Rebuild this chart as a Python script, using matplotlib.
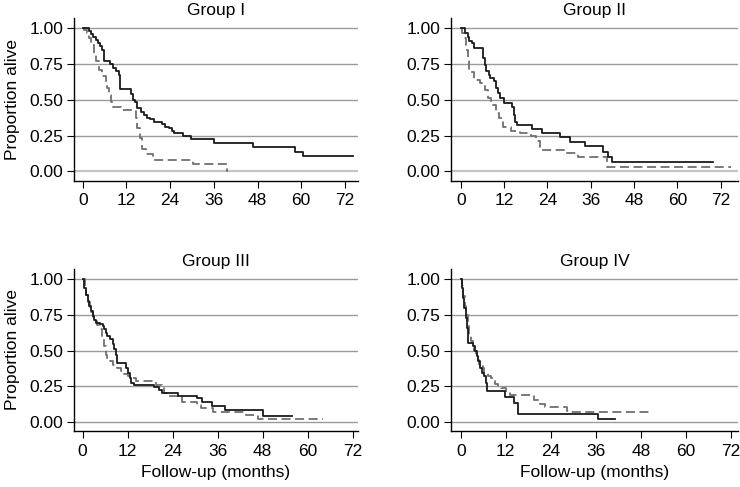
"""Kaplan-Meier style survival curves for four groups (2x2 panels)."""

import matplotlib

matplotlib.use("Agg")
import matplotlib.pyplot as plt

plt.rcParams["font.family"] = ["Liberation Sans", "DejaVu Sans"]

# Step curves: event times (months), survival after each step, and last follow-up.
g1_solid_t = [1.7, 2.4, 2.9, 3.6, 4.2, 4.8, 5.4, 5.9, 7.5, 8.4, 9.1, 10.0, 10.2,
              13.2, 13.7, 14.3, 15.0, 16.0, 16.9, 17.6, 18.5, 19.6, 21.7, 22.6,
              23.8, 24.4, 25.1, 27.4, 29.7, 36.0, 46.7, 58.4, 60.4]
g1_solid_s = [0.979, 0.960, 0.939, 0.920, 0.897, 0.874, 0.845, 0.773, 0.749, 0.721,
              0.698, 0.674, 0.574, 0.539, 0.499, 0.487, 0.440, 0.417, 0.393, 0.375,
              0.363, 0.342, 0.328, 0.311, 0.300, 0.281, 0.265, 0.248, 0.225, 0.197,
              0.169, 0.133, 0.105]
g1_solid_end = 74.1
g1_dash_t = [0.4, 1.1, 1.7, 2.4, 3.1, 3.6, 4.5, 5.4, 6.3, 6.8, 7.2, 7.7, 8.2, 10.5,
             14.6, 15.0, 15.8, 16.4, 17.3, 19.2, 30.2, 39.5]
g1_dash_s = [0.985, 0.967, 0.932, 0.885, 0.815, 0.768, 0.710, 0.663, 0.616, 0.581,
             0.534, 0.487, 0.452, 0.429, 0.370, 0.300, 0.230, 0.159, 0.124, 0.077,
             0.050, 0.0]
g1_dash_end = 40.0

g2_solid_t = [1.2, 1.9, 2.4, 3.0, 3.8, 6.3, 6.6, 7.0, 7.7, 8.2, 9.1, 9.8, 10.3, 11.0,
              12.1, 14.2, 14.7, 15.1, 15.6, 19.7, 22.4, 27.5, 30.3, 34.4, 39.5, 40.9,
              42.0]
g2_solid_s = [0.967, 0.937, 0.913, 0.897, 0.862, 0.792, 0.745, 0.700, 0.674, 0.651,
              0.628, 0.581, 0.546, 0.511, 0.475, 0.452, 0.393, 0.346, 0.323, 0.297,
              0.267, 0.239, 0.208, 0.176, 0.138, 0.103, 0.068]
g2_solid_end = 69.9
g2_dash_t = [0.3, 0.9, 1.4, 1.9, 2.4, 2.9, 3.8, 5.2, 6.1, 6.6, 7.5, 8.4, 9.8, 10.7,
             11.6, 14.0, 16.5, 19.5, 20.8, 22.0, 29.2, 32.6, 40.4]
g2_dash_s = [0.967, 0.930, 0.850, 0.780, 0.710, 0.695, 0.640, 0.616, 0.593, 0.570,
             0.510, 0.464, 0.405, 0.370, 0.311, 0.280, 0.265, 0.248, 0.210, 0.150,
             0.127, 0.103, 0.033]
g2_dash_end = 74.8

g3_solid_t = [0.4, 0.9, 1.3, 1.8, 2.2, 2.7, 3.1, 3.5, 4.6, 5.3, 5.7, 6.2, 6.6, 7.3,
              8.0, 8.4, 8.9, 9.1, 11.5, 12.1, 12.7, 13.0, 13.6, 19.1, 20.4, 21.1,
              25.4, 30.6, 31.7, 34.4, 38.0, 48.0]
g3_solid_s = [0.940, 0.890, 0.846, 0.810, 0.776, 0.740, 0.710, 0.694, 0.682, 0.670,
              0.647, 0.624, 0.600, 0.577, 0.542, 0.507, 0.472, 0.414, 0.379, 0.343,
              0.308, 0.273, 0.257, 0.243, 0.227, 0.203, 0.185, 0.165, 0.140, 0.113,
              0.084, 0.044]
g3_solid_end = 55.7
g3_dash_t = [0.5, 1.0, 1.4, 1.9, 2.3, 2.8, 3.3, 3.8, 4.6, 5.1, 5.7, 6.2, 6.6, 7.3,
             8.2, 9.1, 10.2, 11.1, 12.0, 13.0, 14.2, 19.6, 21.1, 21.8, 22.7, 26.4,
             30.4, 31.5, 34.8, 43.5, 46.8]
g3_dash_s = [0.935, 0.885, 0.840, 0.805, 0.770, 0.735, 0.705, 0.680, 0.647, 0.589,
             0.530, 0.472, 0.449, 0.425, 0.400, 0.379, 0.355, 0.336, 0.320, 0.308,
             0.285, 0.262, 0.238, 0.203, 0.180, 0.140, 0.119, 0.096, 0.072, 0.050,
             0.021]
g3_dash_end = 64.2

g4_solid_t = [0.36, 0.62, 0.98, 1.33, 1.69, 2.04, 3.2, 3.8, 4.4, 4.7, 5.2, 5.6, 6.3,
              6.7, 7.0, 11.8, 14.2, 15.3, 36.5]
g4_solid_s = [0.940, 0.870, 0.800, 0.730, 0.660, 0.554, 0.530, 0.495, 0.460, 0.425,
              0.379, 0.343, 0.320, 0.273, 0.215, 0.178, 0.131, 0.056, 0.021]
g4_solid_end = 41.2
g4_dash_t = [0.36, 0.71, 1.07, 1.42, 1.87, 2.3, 2.76, 3.2, 3.64, 4.1, 4.53, 4.98,
             5.42, 5.87, 6.3, 7.2, 8.1, 9.0, 9.9, 10.8, 12.1, 13.0, 19.4, 21.2,
             22.5, 28.3, 29.2]
g4_dash_s = [0.950, 0.880, 0.810, 0.750, 0.670, 0.610, 0.565, 0.530, 0.495, 0.467,
             0.437, 0.402, 0.390, 0.379, 0.346, 0.320, 0.308, 0.264, 0.248, 0.238,
             0.210, 0.190, 0.155, 0.126, 0.107, 0.080, 0.068]
g4_dash_end = 50.5

titles = ["Group I", "Group II", "Group III", "Group IV"]
x_ticks = [0, 12, 24, 36, 48, 60, 72]
y_ticks = [0.0, 0.25, 0.5, 0.75, 1.0]
y_tick_labels = ["0.00", "0.25", "0.50", "0.75", "1.00"]

panels = [
    (g1_solid_t, g1_solid_s, g1_solid_end, g1_dash_t, g1_dash_s, g1_dash_end),
    (g2_solid_t, g2_solid_s, g2_solid_end, g2_dash_t, g2_dash_s, g2_dash_end),
    (g3_solid_t, g3_solid_s, g3_solid_end, g3_dash_t, g3_dash_s, g3_dash_end),
    (g4_solid_t, g4_solid_s, g4_solid_end, g4_dash_t, g4_dash_s, g4_dash_end),
]
# axes boxes in pixels: left, top, right, bottom, and x-range per panel
boxes = [(74, 18, 358, 180.5), (451, 18, 738, 180.5),
         (74, 269, 358, 431), (451, 269, 738, 431)]
x_ranges = [(-2.4, 75.6), (-2.7, 76.8), (-2.3, 73.4), (-2.6, 73.9)]

W, H = 740, 487
FS = 12.5
fig = plt.figure(figsize=(W / 100, H / 100), dpi=100)


def km_path(times, surv, end):
    xs = [0.0] + list(times) + [end]
    ys = [1.0] + list(surv) + [surv[-1]]
    return xs, ys


for i, (box, xr, title, data) in enumerate(zip(boxes, x_ranges, titles, panels)):
    l, t, r, b = box
    ax = fig.add_axes([l / W, 1 - b / H, (r - l) / W, (b - t) / H])
    st, ss, se, dt, ds, de = data
    top_row = i < 2
    for y in y_ticks:
        if y == 0.0 and top_row:
            ax.axhline(y, color="#c4c4c4", lw=1.6, zorder=1)
        else:
            ax.axhline(y, color="#9a9a9a", lw=1.0, zorder=1)
    xs, ys = km_path(dt, ds, de)
    ax.step(xs, ys, where="post", color="#707070", lw=1.3,
            dashes=(5, 2.5), zorder=2)
    xs, ys = km_path(st, ss, se)
    ax.step(xs, ys, where="post", color="#1a1a1a", lw=1.3, zorder=3)

    ax.set_xlim(*xr)
    ax.set_ylim(-0.063, 1.07)
    ax.set_xticks(x_ticks)
    ax.set_yticks(y_ticks)
    ax.set_yticklabels(y_tick_labels)
    ax.tick_params(labelsize=FS, length=5, width=0.8, color="black")
    ax.tick_params(axis="x", pad=4)
    ax.tick_params(axis="y", pad=2.5)
    for side in ("top", "right"):
        ax.spines[side].set_visible(False)
    for side in ("left", "bottom"):
        ax.spines[side].set_linewidth(1.0)
    ax.set_title(title, fontsize=FS, pad=2)
    if i % 2 == 0:
        ax.set_ylabel("Proportion alive", fontsize=FS, labelpad=7)
    if not top_row:
        ax.set_xlabel("Follow-up (months)", fontsize=FS, labelpad=5)

fig.savefig("out.png", dpi=100)
